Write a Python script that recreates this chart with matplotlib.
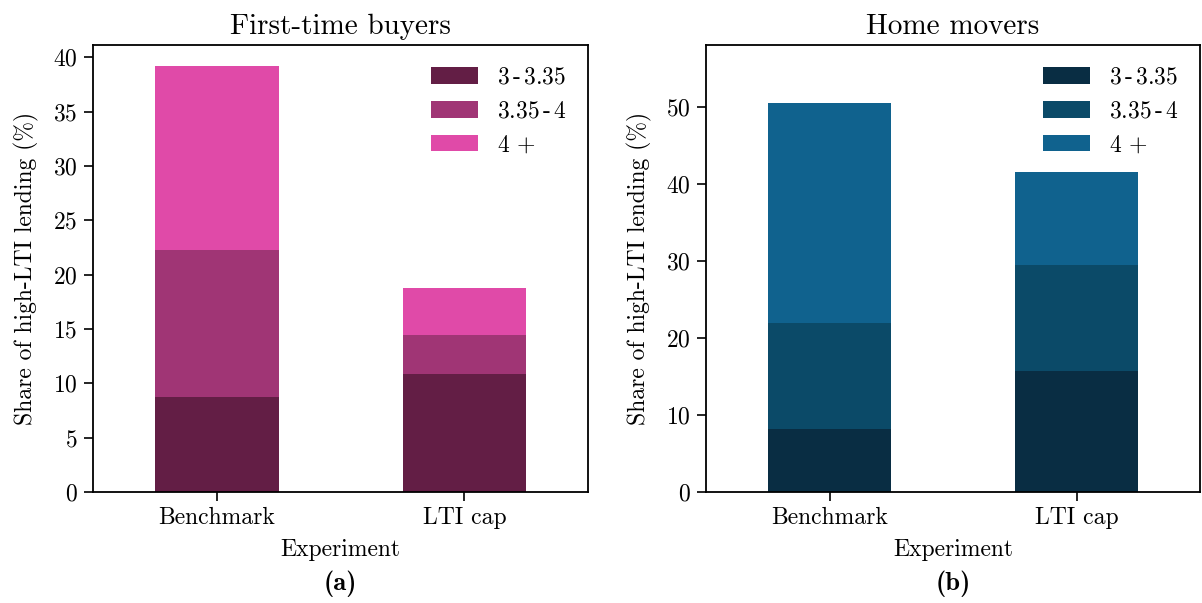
import numpy as np
import matplotlib
matplotlib.use("Agg")
import matplotlib.pyplot as plt

# LaTeX-like look with the bundled Computer Modern fonts
plt.rcParams["font.family"] = "cmr10"
plt.rcParams["mathtext.fontset"] = "cm"
plt.rcParams["axes.formatter.use_mathtext"] = True
plt.rcParams["font.size"] = 17
plt.rcParams["axes.linewidth"] = 1.3

experiments = ["Benchmark", "LTI cap"]
bands = [r"3$\,$-$\,$3.35", r"3.35$\,$-$\,$4", r"4$\,+$"]

# share of high-LTI lending (%) by LTI band, one row per experiment
ftb_shares = np.array([
    [8.76, 13.49, 16.92],
    [10.85, 3.59, 4.32],
])
mover_shares = np.array([
    [8.23, 13.67, 28.59],
    [15.69, 13.71, 12.17],
])

ftb_colors = ["#631e45", "#a03575", "#e04aa8"]
mover_colors = ["#092d43", "#0b4a68", "#10628e"]

fig = plt.figure(figsize=(12.02, 6.03), dpi=100)
ax1 = fig.add_axes([0.0774, 0.184, 0.412, 0.741])
ax2 = fig.add_axes([0.5874, 0.184, 0.411, 0.741])


def stacked(ax, shares, colors, title, ymax, yticks):
    x = np.arange(len(experiments))
    bottom = np.zeros(len(experiments))
    for j, band in enumerate(bands):
        ax.bar(x, shares[:, j], 0.5, bottom=bottom, color=colors[j], label=band)
        bottom += shares[:, j]
    ax.set_xlim(-0.5, 1.5)
    ax.set_ylim(0, ymax)
    ax.set_yticks(yticks)
    ax.set_xticks(x)
    ax.set_xticklabels(experiments)
    ax.set_xlabel("Experiment", labelpad=7)
    ax.set_ylabel("Share of high-LTI lending (%)", labelpad=10)
    ax.set_title(title, fontsize=21, pad=8)
    ax.tick_params(length=6.5, width=1.2, pad=4.5)
    ax.legend(loc="upper right", frameon=False)


stacked(ax1, ftb_shares, ftb_colors, "First-time buyers", 41.1, np.arange(0, 41, 5))
stacked(ax2, mover_shares, mover_colors, "Home movers", 57.95, np.arange(0, 51, 10))

fig.text(0.283, 0.022, "(a)", fontfamily="cmb10", fontsize=19, ha="center")
fig.text(0.793, 0.022, "(b)", fontfamily="cmb10", fontsize=19, ha="center")

fig.savefig("out.png", dpi=100)
